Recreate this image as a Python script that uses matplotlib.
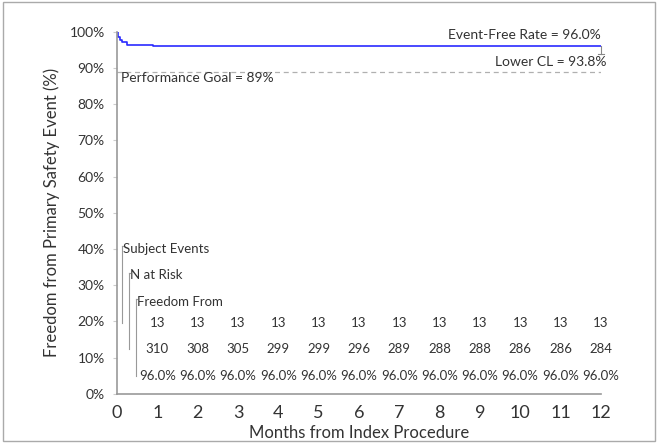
import matplotlib.pyplot as plt
from matplotlib.patches import Rectangle

# Kaplan-Meier style step curve (months, freedom %)
km_months = [0, 0.03, 0.07, 0.12, 0.25, 0.9, 12]
km_rate = [100.0, 98.6, 97.7, 97.1, 96.5, 96.0, 96.0]

event_free_rate = 96.0
lower_cl = 93.8
performance_goal = 89

months = [1, 2, 3, 4, 5, 6, 7, 8, 9, 10, 11, 12]
subject_events = [13, 13, 13, 13, 13, 13, 13, 13, 13, 13, 13, 13]
n_at_risk = [310, 308, 305, 299, 299, 296, 289, 288, 288, 286, 286, 284]
freedom_from = ["96.0%"] * 12

row_labels = ["Subject Events", "N at Risk", "Freedom From"]

plt.rcParams['font.family'] = ['Lato', 'DejaVu Sans']
txt = '#333333'

fig = plt.figure(figsize=(6.58, 4.43), dpi=100)
ax = fig.add_axes([0.178, 0.111, 0.735, 0.817])

ax.step(km_months, km_rate, where='post', color='#2a2aff', lw=1.2)
ax.axhline(performance_goal, xmin=0, xmax=1, color='#b0b0b0', lw=0.9, ls=(0, (4, 3)))

# lower CL whisker at 12 months
ax.plot([12, 12], [event_free_rate, lower_cl], color='#888888', lw=0.8, clip_on=False)
ax.plot([11.93, 12.07], [lower_cl, lower_cl], color='#888888', lw=0.8, clip_on=False)

ax.text(12, 97.4, "Event-Free Rate = 96.0%", ha='right', va='bottom', fontsize=10, color=txt)
ax.text(12.15, 91.8, "Lower CL = 93.8%", ha='right', va='center', fontsize=10, color=txt)
ax.text(0.1, 87.2, "Performance Goal = 89%", ha='left', va='center', fontsize=10, color=txt)

# number-at-risk table drawn inside the axes
row_y = [19.6, 12.3, 5.0]
label_y = [40.0, 32.7, 25.5]
bracket_x = [0.12, 0.3, 0.47]
rows = [subject_events, n_at_risk, freedom_from]
for i in range(3):
    ax.text(bracket_x[i] + 0.03, label_y[i], row_labels[i], ha='left', va='center', fontsize=9.5, color=txt)
    ax.plot([bracket_x[i], bracket_x[i]], [row_y[i], label_y[i] + 0.8], color='#999999', lw=0.8)
    ax.plot([bracket_x[i], bracket_x[i] + 0.03], [label_y[i] + 0.8, label_y[i] + 0.8], color='#999999', lw=0.8)
    for m, v in zip(months, rows[i]):
        ax.text(m, row_y[i], str(v), ha='center', va='center', fontsize=9.5, color=txt)

ax.set_xlim(0, 12)
ax.set_ylim(0, 100)
ax.set_xticks(range(0, 13))
ax.set_yticks(range(0, 101, 10))
ax.set_yticklabels([f"{v}%" for v in range(0, 101, 10)])
ax.tick_params(axis='x', length=0, pad=8, labelsize=13, labelcolor=txt)
ax.tick_params(axis='y', length=3, pad=6, color='#cccccc', labelsize=10, labelcolor=txt)
for s in ['top', 'right']:
    ax.spines[s].set_visible(False)
for s in ['left', 'bottom']:
    ax.spines[s].set_color('#999999')
    ax.spines[s].set_linewidth(1.2)

ax.set_xlabel("Months from Index Procedure", fontsize=12, color=txt, labelpad=3)
ax.set_ylabel("Freedom from Primary Safety Event (%)", fontsize=12, color=txt, labelpad=7)

fig.patches.append(Rectangle((0.004, 0.004), 0.992, 0.992, transform=fig.transFigure,
                             fill=False, edgecolor='#aaaaaa', lw=1))

plt.savefig("out.png", dpi=100)
